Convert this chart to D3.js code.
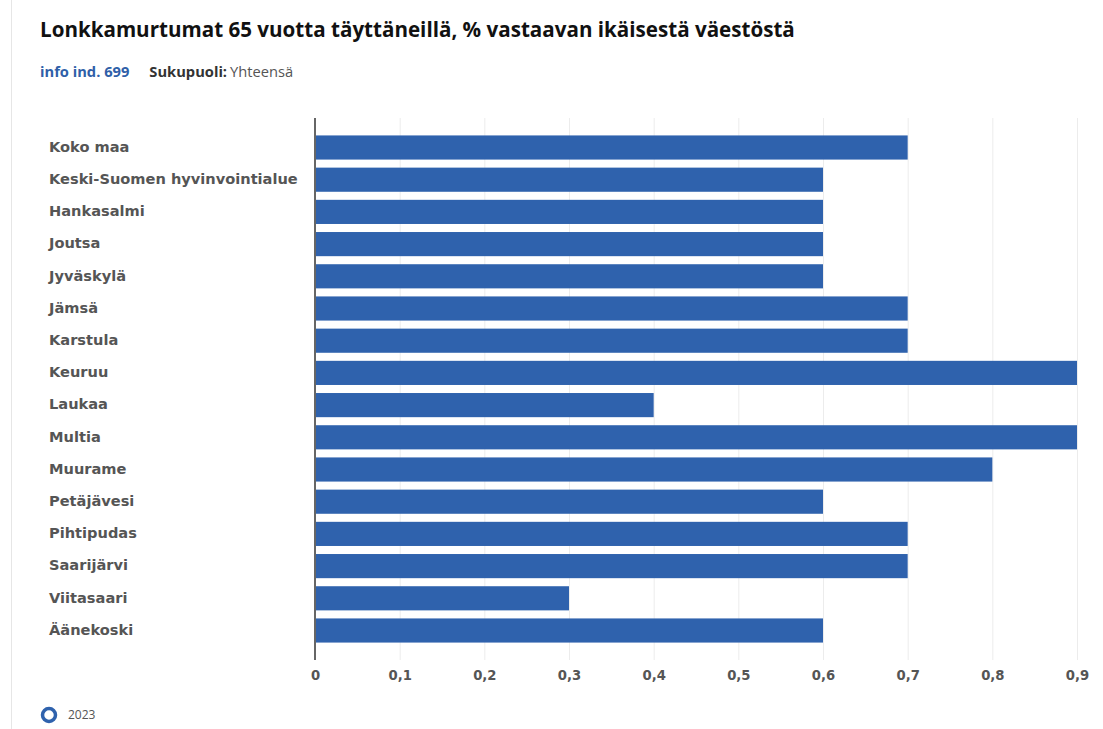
<!DOCTYPE html>
<html>
<head>
<meta charset="utf-8">
<script src="https://cdn.jsdelivr.net/npm/d3@7"></script>
<style>
  body { margin: 0; background: #fff; }
  svg { display: block; }
</style>
</head>
<body>
<svg id="chart" width="1103" height="729"></svg>
<script>
const categories = [
  "Koko maa", "Keski-Suomen hyvinvointialue", "Hankasalmi", "Joutsa", "Jyväskylä",
  "Jämsä", "Karstula", "Keuruu", "Laukaa", "Multia", "Muurame", "Petäjävesi",
  "Pihtipudas", "Saarijärvi", "Viitasaari", "Äänekoski"
];
const values2023 = [0.7, 0.6, 0.6, 0.6, 0.6, 0.7, 0.7, 0.9, 0.4, 0.9, 0.8, 0.6, 0.7, 0.7, 0.3, 0.6];
const tickValues = [0, 0.1, 0.2, 0.3, 0.4, 0.5, 0.6, 0.7, 0.8, 0.9];
const seriesName = "2023";

const svg = d3.select("#chart");
const barColor = "#2f62ad";

// frame line on the left
svg.append("line").attr("x1", 11.5).attr("x2", 11.5).attr("y1", 0).attr("y2", 729)
  .attr("stroke", "#e6e6e6").attr("stroke-width", 1);

svg.append("text").attr("x", 40).attr("y", 37)
  .attr("font-family", "'Open Sans', sans-serif").attr("font-weight", 700)
  .attr("font-size", 20.6).attr("fill", "#111")
  .text("Lonkkamurtumat 65 vuotta täyttäneillä, % vastaavan ikäisestä väestöstä");

const sub = svg.append("text").attr("x", 40).attr("y", 77)
  .attr("font-family", "'Open Sans', sans-serif").attr("font-size", 14.7);
sub.append("tspan").attr("font-weight", 700).attr("fill", "#2f5fa8").text("info ind. 699");
sub.append("tspan").attr("dx", 20).attr("font-weight", 700).attr("fill", "#333").text("Sukupuoli:");
sub.append("tspan").attr("dx", 3).attr("fill", "#555").text("Yhteensä");

const x = d3.scaleLinear().domain([0, 0.9]).range([315, 1077]);
const y = d3.scaleBand().domain(categories).range([131.4, 646.6]).paddingInner(0.25).paddingOuter(0.125);

// grid
svg.append("g").selectAll("line").data(tickValues.slice(1)).join("line")
  .attr("x1", d => x(d) + 0.5).attr("x2", d => x(d) + 0.5)
  .attr("y1", 118).attr("y2", 660)
  .attr("stroke", "#ececec").attr("stroke-width", 1);

// bars
svg.append("g").selectAll("rect").data(categories).join("rect")
  .attr("x", x(0))
  .attr("y", d => y(d))
  .attr("width", (d, i) => x(values2023[i]) - x(0))
  .attr("height", y.bandwidth())
  .attr("fill", barColor);

// zero axis line
svg.append("line").attr("x1", x(0)).attr("x2", x(0)).attr("y1", 118).attr("y2", 660)
  .attr("stroke", "#666").attr("stroke-width", 2);

// category labels
svg.append("g").selectAll("text").data(categories).join("text")
  .attr("x", 49).attr("y", d => y(d) + y.bandwidth() / 2)
  .attr("dy", "0.3em")
  .attr("font-family", "'DejaVu Sans', sans-serif").attr("font-weight", 700)
  .attr("font-size", 14.6).attr("fill", "#555")
  .text(d => d);

// x axis tick labels
const fmt = d => d === 0 ? "0" : d3.format(".1f")(d).replace(".", ",");
const xAxis = d3.axisBottom(x).tickValues(tickValues).tickSize(0).tickPadding(0).tickFormat(fmt);
const ax = svg.append("g").attr("transform", "translate(0,671)").call(xAxis);
ax.select(".domain").remove();
ax.selectAll("text")
  .attr("dy", "0.71em")
  .attr("font-family", "'DejaVu Sans', sans-serif").attr("font-weight", 700)
  .attr("font-size", 13.2).attr("fill", "#555");

// legend
const lg = svg.append("g").attr("transform", "translate(49,715)");
lg.append("circle").attr("r", 6.5).attr("fill", "none").attr("stroke", barColor).attr("stroke-width", 3.5);
lg.append("text").attr("x", 19).attr("dy", "0.35em")
  .attr("font-family", "'Open Sans', sans-serif").attr("font-size", 12).attr("fill", "#555")
  .text(seriesName);
</script>
</body>
</html>
